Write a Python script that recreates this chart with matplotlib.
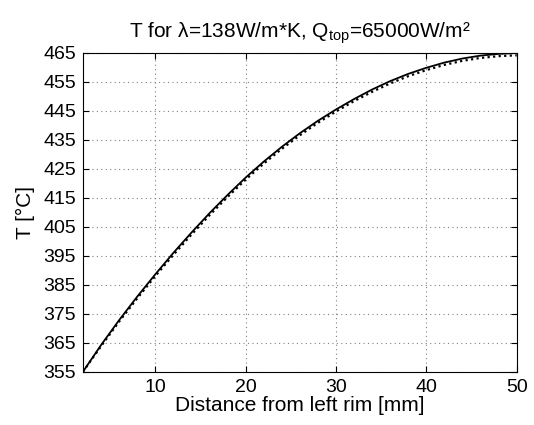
import matplotlib
matplotlib.use("Agg")
import matplotlib.pyplot as plt

# distance from left rim [mm] and temperature [degC]
dist = [2, 4, 6, 8, 10, 12, 14, 16, 18, 20, 22, 24, 26,
        28, 30, 32, 34, 36, 38, 40, 42, 44, 46, 48, 50]
temp = [355.0, 364.2, 372.8, 380.9, 388.6, 396.0, 403.0, 409.7, 416.0, 422.0,
        427.5, 432.6, 437.3, 441.6, 445.5, 449.1, 452.4, 455.3, 457.8, 459.9,
        461.7, 463.1, 464.1, 464.7, 465.0]
# second (dotted) series, sits just under the solid one
temp2 = [355.0, 363.8, 372.3, 380.3, 388.0, 395.3, 402.3, 409.0, 415.3, 421.3,
         426.8, 431.9, 436.6, 440.9, 444.8, 448.4, 451.6, 454.5, 457.0, 459.1,
         460.9, 462.3, 463.3, 463.9, 464.2]

xticks = [10, 20, 30, 40, 50]
yticks = list(range(355, 466, 10))

plt.rcParams['font.family'] = ['Liberation Sans', 'DejaVu Sans']
plt.rcParams['mathtext.fontset'] = 'custom'
plt.rcParams['mathtext.rm'] = 'Liberation Sans'
plt.rcParams['mathtext.it'] = 'Liberation Sans'

fig = plt.figure(figsize=(5.34, 4.25), dpi=100)
ax = fig.add_axes([0.1554, 0.1254, 0.8122, 0.7499])

ax.plot(dist, temp2, color="black", lw=1.6, linestyle=(0, (1, 1.5)))
ax.plot(dist, temp, color="black", lw=1.3)

ax.set_xlim(2, 50)
ax.set_ylim(355, 465)
ax.set_xticks(xticks)
ax.set_yticks(yticks)
ax.tick_params(direction="in", top=True, right=True, labelsize=14, length=4, width=0.8, pad=5)
ax.grid(True, linestyle=(0, (1, 3)), color="#808080", lw=0.8)
for s in ax.spines.values():
    s.set_linewidth(0.8)

ax.set_xlabel("Distance from left rim [mm]", fontsize=15, labelpad=0)
ax.set_ylabel("T [°C]", fontsize=15, labelpad=6)
ax.set_title("T for λ=138W/m*K, Q$_{\\rm top}$=65000W/m²", fontsize=15, pad=11)

fig.savefig("out.png", dpi=100)
